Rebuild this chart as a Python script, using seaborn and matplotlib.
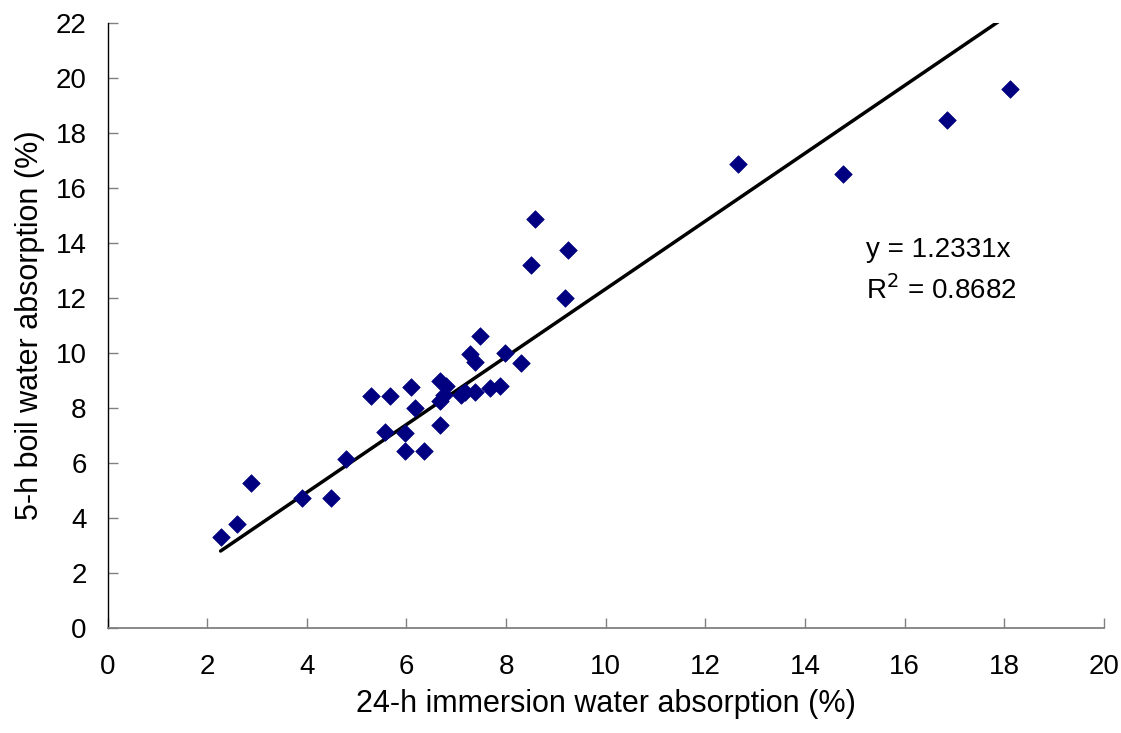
import matplotlib
matplotlib.use("Agg")
import matplotlib.pyplot as plt
import seaborn as sns
import numpy as np
import pandas as pd

# Data
immersion_24h = [2.27, 2.59, 2.89, 3.91, 4.48, 4.78, 5.29, 5.57, 5.67, 5.97,
                 5.97, 6.10, 6.17, 6.36, 6.67, 6.67, 6.79, 6.75, 6.67, 7.09,
                 7.17, 7.37, 7.67, 7.87, 7.27, 7.37, 7.47, 7.97, 8.29, 8.57,
                 9.25, 8.49, 9.18, 12.65, 14.77, 16.84, 18.12]
boil_5h = [3.31, 3.80, 5.29, 4.71, 4.71, 6.14, 8.43, 7.13, 8.43, 7.10,
           6.42, 8.78, 8.01, 6.42, 7.39, 9.00, 8.80, 8.46, 8.24, 8.46,
           8.58, 8.58, 8.71, 8.80, 9.95, 9.69, 10.61, 10.00, 9.64, 14.89,
           13.76, 13.21, 12.00, 16.88, 16.52, 18.48, 19.60]
slope = 1.2331
r_squared = 0.8682
x_ticks = list(range(0, 21, 2))
y_ticks = list(range(0, 23, 2))
x_label = "24-h immersion water absorption (%)"
y_label = "5-h boil water absorption (%)"

df = pd.DataFrame({"x": immersion_24h, "y": boil_5h})

sns.set_style("white")
plt.rcParams["font.family"] = ["Liberation Sans", "DejaVu Sans"]
plt.rcParams["text.color"] = "black"
plt.rcParams["axes.labelcolor"] = "black"
plt.rcParams["xtick.direction"] = "in"
plt.rcParams["ytick.direction"] = "in"
plt.rcParams["xtick.bottom"] = True
plt.rcParams["ytick.left"] = True

W, H = 1121, 733
fig = plt.figure(figsize=(W / 100, H / 100), dpi=100)
ax = fig.add_axes([107.5 / W, 1 - 628 / H, (1104 - 107.5) / W, (628 - 23) / H])

sns.scatterplot(data=df, x="x", y="y", ax=ax, marker="D", s=80,
                color="#000080", edgecolor="#000080", linewidth=0.5, zorder=3)

xl = np.array([min(immersion_24h), max(immersion_24h)])
sns.lineplot(x=xl, y=slope * xl, ax=ax, color="black", linewidth=2.5, zorder=2)

ax.set_xlim(0, 20)
ax.set_ylim(0, 22)
ax.set_xticks(x_ticks)
ax.set_yticks(y_ticks)
ax.tick_params(axis="both", which="major", direction="in", length=7, width=1,
               labelsize=20, color="#808080", labelcolor="black",
               bottom=True, left=True)
ax.tick_params(axis="x", pad=19)
ax.tick_params(axis="y", pad=15)
for s in ["top", "right"]:
    ax.spines[s].set_visible(False)
ax.spines["left"].set_color("black")
ax.spines["left"].set_linewidth(1.0)
ax.spines["bottom"].set_color("#808080")
ax.spines["bottom"].set_linewidth(1.3)

ax.set_xlabel(x_label, fontsize=22, labelpad=6)
ax.set_ylabel(y_label, fontsize=22, labelpad=8)

ax.text(866, H - 250, f"y = {slope}x", transform=None, fontsize=20,
        ha="left", va="center")
ax.text(866, H - 290, f"R$^2$ = {r_squared}", transform=None, fontsize=20,
        ha="left", va="center")

fig.savefig("out.png", dpi=100)
